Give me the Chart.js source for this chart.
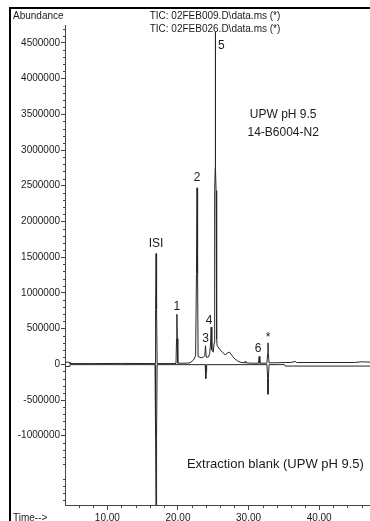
<!DOCTYPE html>
<html>
<head>
<meta charset="utf-8">
<script src="https://cdn.jsdelivr.net/npm/chart.js@4.4.1/dist/chart.umd.min.js"></script>
<style>
  html, body { margin: 0; padding: 0; background: #fff; }
  #wrap { position: relative; width: 370px; height: 521px; }
</style>
</head>
<body>
<div id="wrap"><canvas id="tic" width="370" height="521"></canvas></div>
<script>
// retention time (min) / abundance of the sample TIC (plotted upward)
const sampleTime = [
  4.1, 4.6, 4.7, 8.0, 12.0,
  16.75, 16.83, 16.9, 16.97, 17.05,
  19.0, 19.72, 19.8, 19.85, 19.9, 19.98,
  21.0, 21.7, 22.2, 22.5, 22.62, 22.7, 22.78, 22.85,
  23.3, 23.6, 23.8, 23.9, 24.0, 24.3, 24.5, 24.62, 24.7, 24.8, 25.0,
  25.12, 25.2, 25.28, 25.3, 25.32, 25.4, 25.48, 25.55,
  26.0, 26.7, 27.0, 27.3, 27.6, 27.9, 28.4, 28.8,
  29.4, 29.5, 29.6, 30.5, 31.4, 31.5, 31.6,
  32.6, 32.7, 32.75, 32.8, 32.9, 33.5,
  35.2, 36.0, 36.6, 36.8, 45.0, 46.0, 47.2
];
const sampleAbund = [
  30000, 30000, 10000, 10000, 12000,
  10000, 770000, 1550000, 770000, 10000,
  10000, 12000, 360000, 700000, 360000, 15000,
  15000, 20000, 60000, 120000, 1270000, 2470000, 1270000, 110000,
  90000, 100000, 120000, 260000, 100000, 100000, 150000, 300000, 520000, 200000, 170000,
  300000, 2430000, 2750000, 4650000, 2750000, 2430000, 350000, 260000,
  200000, 130000, 160000, 170000, 130000, 90000, 50000, 30000,
  20000, 40000, 20000, 15000, 15000, 110000, 15000,
  15000, 150000, 300000, 150000, 20000, 20000,
  25000, 25000, 40000, 25000, 25000, 35000, 30000
];

// extraction blank TIC (plotted mirrored, downward)
const blankTime = [
  4.1, 4.6, 4.7, 16.75, 16.83, 16.9, 16.97, 17.05,
  23.85, 23.92, 23.96, 24.0, 24.06,
  32.6, 32.7, 32.75, 32.8, 32.9,
  35.1, 35.2, 47.2
];
const blankAbund = [
  30000, 30000, 5000, 5000, 1000000, 2300000, 1000000, 5000,
  5000, 100000, 200000, 100000, 5000,
  5000, 200000, 420000, 200000, 5000,
  5000, 25000, 25000
];

// peak annotations
const peakNames = ['ISI', '1', '2', '3', '4', '5', '6', '*'];
const peakTimes = [16.9, 19.85, 22.7, 23.9, 24.7, 25.3, 31.5, 32.75];
const peakTops = [1550000, 700000, 2470000, 260000, 520000, 4650000, 110000, 300000];

const xTicks = [10, 20, 30, 40];
const yTicks = [-1000000, -500000, 0, 500000, 1000000, 1500000, 2000000,
  2500000, 3000000, 3500000, 4000000, 4500000];

const titleLines = ['TIC: 02FEB009.D\\data.ms (*)', 'TIC: 02FEB026.D\\data.ms (*)'];
const sampleNote = ['UPW pH 9.5', '14-B6004-N2'];
const blankNote = 'Extraction blank (UPW pH 9.5)';

const axisFont = { family: 'Arial, "Liberation Sans", sans-serif', size: 10 };
const ink = '#1a1a1a';

const traceDecor = {
  id: 'traceDecor',
  beforeDraw(chart) {
    const ctx = chart.ctx;
    ctx.save();
    ctx.fillStyle = '#fff';
    ctx.fillRect(0, 0, chart.width, chart.height);
    // window frame
    ctx.fillStyle = '#000';
    ctx.fillRect(9, 7, chart.width - 9, 2);
    ctx.fillRect(9, 7, 2, chart.height - 7);
    ctx.restore();
  },
  afterDraw(chart) {
    const { ctx, chartArea: area } = chart;
    const x = chart.scales.x, y = chart.scales.y;
    ctx.save();

    // minor tick marks
    ctx.strokeStyle = '#444';
    ctx.lineWidth = 1;
    ctx.beginPath();
    for (let v = -1900000; v <= 4700000; v += 100000) {
      if (v % 500000 === 0) continue;
      const py = Math.round(y.getPixelForValue(v)) + 0.5;
      ctx.moveTo(area.left - 2, py);
      ctx.lineTo(area.left, py);
    }
    for (let t = 6; t <= 46; t += 2) {
      if (t % 10 === 0) continue;
      const px = Math.round(x.getPixelForValue(t)) + 0.5;
      ctx.moveTo(px, area.bottom);
      ctx.lineTo(px, area.bottom + 3);
    }
    ctx.stroke();

    ctx.fillStyle = ink;
    ctx.textBaseline = 'middle';

    // header and axis captions
    ctx.font = '10px Arial, "Liberation Sans", sans-serif';
    ctx.textAlign = 'left';
    ctx.fillText('Abundance', 13, 16);
    ctx.fillText('Time-->', 13, 518);
    ctx.textAlign = 'center';
    titleLines.forEach((s, i) => ctx.fillText(s, 215, 16 + i * 13));

    // peak labels
    const nudge = { 'ISI': [0, -10], '1': [0, -8], '2': [0, -10], '3': [0, -7],
      '4': [-2, -6], '5': [6, 14], '6': [-1, -8], '*': [0, -5] };
    ctx.font = '12px Arial, "Liberation Sans", sans-serif';
    peakNames.forEach((name, i) => {
      const d = nudge[name];
      ctx.fillText(name, x.getPixelForValue(peakTimes[i]) + d[0],
        y.getPixelForValue(peakTops[i]) + d[1]);
    });

    // sample / blank notes
    const nx = x.getPixelForValue(34.9);
    ctx.fillText(sampleNote[0], nx, y.getPixelForValue(3500000));
    ctx.fillText(sampleNote[1], nx, y.getPixelForValue(3240000));
    ctx.font = '13px Arial, "Liberation Sans", sans-serif';
    ctx.fillText(blankNote, x.getPixelForValue(33.8), y.getPixelForValue(-1400000));

    ctx.restore();
  }
};

const traceStyle = {
  showLine: true,
  borderColor: '#262626',
  borderWidth: 1,
  pointRadius: 0,
  tension: 0
};

new Chart(document.getElementById('tic'), {
  type: 'scatter',
  data: {
    datasets: [
      Object.assign({
        label: titleLines[0],
        data: sampleTime.map((t, i) => ({ x: t, y: sampleAbund[i] }))
      }, traceStyle),
      Object.assign({
        label: titleLines[1],
        data: blankTime.map((t, i) => ({ x: t, y: -blankAbund[i] }))
      }, traceStyle)
    ]
  },
  options: {
    responsive: false,
    animation: false,
    devicePixelRatio: 1,
    layout: { padding: { top: 25, left: 0, right: 0, bottom: 0 } },
    plugins: { legend: { display: false }, tooltip: { enabled: false } },
    scales: {
      x: {
        type: 'linear',
        min: 4,
        max: 47.2,
        afterBuildTicks: s => { s.ticks = xTicks.map(v => ({ value: v })); },
        afterFit: s => { s.height = 16; },
        ticks: {
          font: axisFont, color: ink, padding: 2, maxRotation: 0,
          callback: v => Number(v).toFixed(2)
        },
        grid: { drawOnChartArea: false, tickLength: 5, color: '#444' },
        border: { color: '#444' }
      },
      y: {
        min: -1970000,
        max: 4750000,
        afterBuildTicks: s => { s.ticks = yTicks.map(v => ({ value: v })); },
        afterFit: s => { s.width = 65; },
        ticks: { font: axisFont, color: ink, padding: 1, callback: v => String(v) },
        grid: { drawOnChartArea: false, tickLength: 4, color: '#444' },
        border: { color: '#444' }
      }
    }
  },
  plugins: [traceDecor]
});
</script>
</body>
</html>
